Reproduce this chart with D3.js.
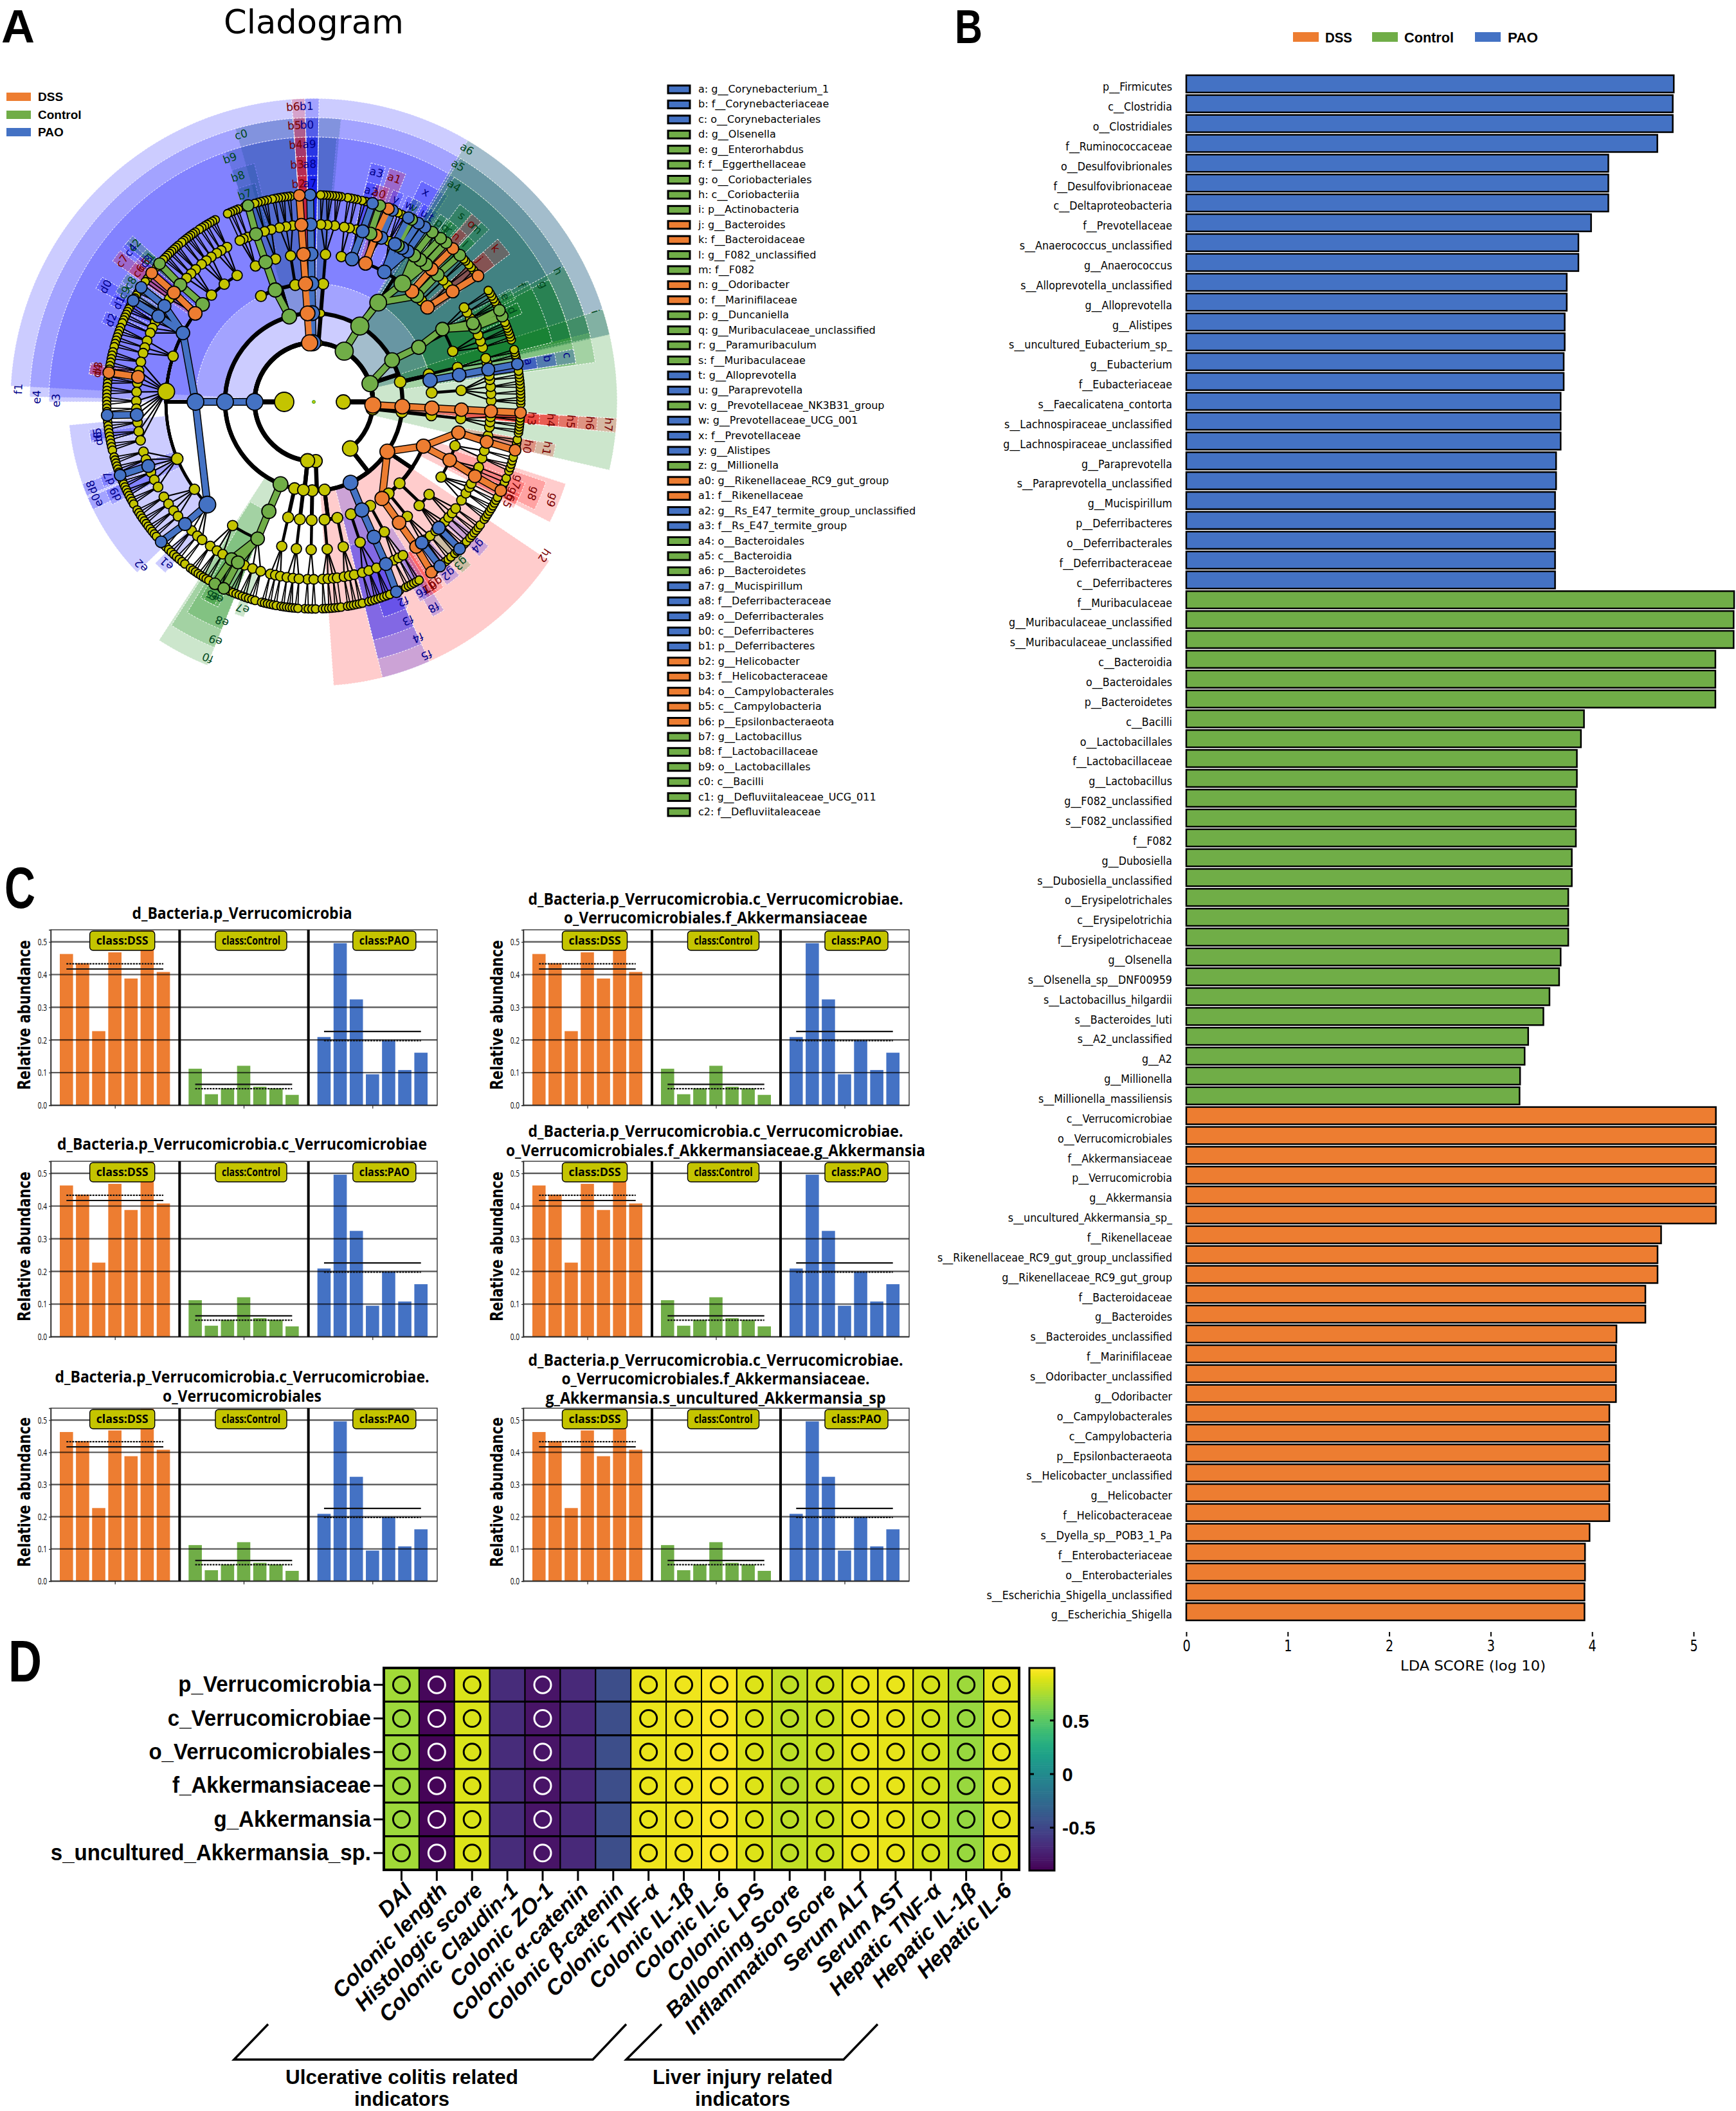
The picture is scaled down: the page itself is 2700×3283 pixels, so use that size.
<!DOCTYPE html>
<html><head><meta charset="utf-8">
<script src="https://cdn.jsdelivr.net/npm/d3@7/dist/d3.min.js"></script>
<style>html,body{margin:0;background:#fff}svg{display:block}</style></head>
<body><svg id="fig" width="2700" height="3283"></svg>
<script>
// ---------- shared colours ----------
const groupNames = ["DSS", "Control", "PAO"];
const groupColors = ["#ed7d31", "#70ad47", "#4472c4"];

// ---------- Panel A: legend ----------
const cladeLegendLabels = ["a: g__Corynebacterium_1","b: f__Corynebacteriaceae","c: o__Corynebacteriales","d: g__Olsenella","e: g__Enterorhabdus","f: f__Eggerthellaceae","g: o__Coriobacteriales","h: c__Coriobacteriia","i: p__Actinobacteria","j: g__Bacteroides","k: f__Bacteroidaceae","l: g__F082_unclassified","m: f__F082","n: g__Odoribacter","o: f__Marinifilaceae","p: g__Duncaniella","q: g__Muribaculaceae_unclassified","r: g__Paramuribaculum","s: f__Muribaculaceae","t: g__Alloprevotella","u: g__Paraprevotella","v: g__Prevotellaceae_NK3B31_group","w: g__Prevotellaceae_UCG_001","x: f__Prevotellaceae","y: g__Alistipes","z: g__Millionella","a0: g__Rikenellaceae_RC9_gut_group","a1: f__Rikenellaceae","a2: g__Rs_E47_termite_group_unclassified","a3: f__Rs_E47_termite_group","a4: o__Bacteroidales","a5: c__Bacteroidia","a6: p__Bacteroidetes","a7: g__Mucispirillum","a8: f__Deferribacteraceae","a9: o__Deferribacterales","b0: c__Deferribacteres","b1: p__Deferribacteres","b2: g__Helicobacter","b3: f__Helicobacteraceae","b4: o__Campylobacterales","b5: c__Campylobacteria","b6: p__Epsilonbacteraeota","b7: g__Lactobacillus","b8: f__Lactobacillaceae","b9: o__Lactobacillales","c0: c__Bacilli","c1: g__Defluviitaleaceae_UCG_011","c2: f__Defluviitaleaceae"];
const cladeLegendGroups = "PPPCCCCCCDDCCDDCCCCPPCPPPCDDPPCCCPPPPPDDDDDCCCCCC".split("");

// ---------- Panel A: taxonomy rows: phylum, class, order, family, from°, to°, genera ----------
// A genus is its species count, or [name, species count]. Degrees run counter-clockwise from east.
const taxonRows = [
["px2","cx2","ox2","fx2",-93,-89,[2,2]],
["p__Proteobacteria","c_a","o_a1","f_a1",-88,-82,[2,2,2,1]],
["p__Proteobacteria","c_a","o_a2","f_a2",-81,-76,[2,2,2]],
["p__Proteobacteria","c__Deltaproteobacteria","o_d2","f_d2",-75,-68,[2,3,3]],
["p__Proteobacteria","c__Deltaproteobacteria","o__Desulfovibrionales","f__Desulfovibrionaceae",-67,-65,[["g_f2",2]]],
["p__Proteobacteria","c__Deltaproteobacteria","o_d3","f_d3",-64,-59,[2,2,2]],
["p__Proteobacteria","c_Gamma","o__Enterobacteriales","f__Enterobacteriaceae",-56,-53.5,[["g__Escherichia",2]]],
["p__Proteobacteria","c_Gamma","o_g1","f_g1",-53,-48,[["g_g2",1],2,2]],
["p__Proteobacteria","c_Gamma","o_g2","f_g2",-47.5,-42,[2,["g_g4",1],2,1]],
["p__Proteobacteria","c_Gamma","o_g2","f_g5",-41.5,-36,[2,2,2]],
["p__Proteobacteria","c_Gamma","o_g9","f_g3",-35,-27,[3,3,2,1]],
["p__Proteobacteria","c_Gamma","o_g9","f_g8",-26,-21,[["g_g7",2],1,1]],
["p__Proteobacteria","c_Gamma","o_g9","f_g4",-20,-15,[3,2]],
["p__Proteobacteria","c_Gamma","o_g9","f_h1",-14,-10,[["g_h0",2],2]],
["p_y","c_y","o_y","f_y",-9,-4,[2,2,2]],
["p__Verrucomicrobia","c__Verrucomicrobiae","o__Verrucomicrobiales","f__Akkermansiaceae",-3.5,-2.5,[["g__Akkermansia",1]]],
["p__Actinobacteria","c_Actino","o_b1","f_b1",-1,9,[3,2,3,2,1]],
["p__Actinobacteria","c_Actino","o__Corynebacteriales","f__Corynebacteriaceae",10,11,[["g__Corynebacterium_1",1]]],
["p__Actinobacteria","c_Actino","o_b2","f_b2",12,15,[2,2]],
["p__Actinobacteria","c__Coriobacteriia","o__Coriobacteriales","f_c2",17,23,[2,3,2]],
["p__Actinobacteria","c__Coriobacteriia","o__Coriobacteriales","f__Eggerthellaceae",24,33,[["g__Olsenella",2],["g__Enterorhabdus",1],3,2,2]],
["p__Bacteroidetes","c__Bacteroidia","o__Bacteroidales","f__Bacteroidaceae",37,42,[["g__Bacteroides",3],2]],
["p__Bacteroidetes","c__Bacteroidia","o__Bacteroidales","f_t",42.5,44,[2]],
["p__Bacteroidetes","c__Bacteroidia","o__Bacteroidales","f__F082",44.5,47,[["g__F082_unclassified",2]]],
["p__Bacteroidetes","c__Bacteroidia","o__Bacteroidales","f__Marinifilaceae",47.2,49.5,[["g__Odoribacter",2]]],
["p__Bacteroidetes","c__Bacteroidia","o__Bacteroidales","f__Muribaculaceae",49.8,56.5,[["g__Duncaniella",2],["g__Muribaculaceae_unclassified",3],["g__Paramuribaculum",2]]],
["p__Bacteroidetes","c__Bacteroidia","o__Bacteroidales","f__Prevotellaceae",57,66.5,[["g__Alloprevotella",2],["g__Paraprevotella",2],["g__Prevotellaceae_NK3B31_group",1],["g__Prevotellaceae_UCG_001",1],3]],
["p__Bacteroidetes","c__Bacteroidia","o__Bacteroidales","f__Rikenellaceae",67,72,[["g__Alistipes",1],["g__Rikenellaceae_RC9_gut_group",2],["g__Millionella",1]]],
["p__Bacteroidetes","c__Bacteroidia","o__Bacteroidales","f__Rs_E47_termite_group",73,77,[["g__Rs_E47_termite_group_unclassified",2],2]],
["p__Bacteroidetes","c__Bacteroidia","o__Bacteroidales","f_r",77.5,81,[2,2]],
["p_s","c_s","o_s","f_s",82,88.5,[3,3,2]],
["p__Deferribacteres","c__Deferribacteres","o__Deferribacterales","f__Deferribacteraceae",90.5,91.5,[["g__Mucispirillum",1]]],
["p__Epsilonbacteraeota","c__Campylobacteria","o__Campylobacterales","f__Helicobacteraceae",93.5,94.5,[["g__Helicobacter",1]]],
["p__Firmicutes","c__Bacilli","o_b0","f_b0",96,102,[2,3,2]],
["p__Firmicutes","c__Bacilli","o__Lactobacillales","f_l2",102.5,107,[3,2]],
["p__Firmicutes","c__Bacilli","o__Lactobacillales","f__Lactobacillaceae",108,110,[["g__Lactobacillus",2]]],
["p__Firmicutes","c__Bacilli","o__Lactobacillales","f_l3",111,115,[2,2,1]],
["p__Firmicutes","c__Bacilli","o_b3",null,116,117,[]],
["p__Firmicutes","c__Clostridia","o__Clostridiales","f_c1a",118,124,[3,2,2]],
["p__Firmicutes","c__Clostridia","o__Clostridiales","f_c1b",124.5,130,[2,3,2]],
["p__Firmicutes","c__Clostridia","o__Clostridiales","f_c2b",130.5,137,[3,2,3]],
["p__Firmicutes","c__Clostridia","o__Clostridiales","f__Defluviitaleaceae",137.5,140,[["g__Defluviitaleaceae_UCG_011",2]]],
["p__Firmicutes","c__Clostridia","o__Clostridiales","f_c3",141,145,[["g_c6",2],1,1]],
["p__Firmicutes","c__Clostridia","o__Clostridiales","f__Lachnospiraceae",146,158,[["g_d1",3],2,["g_d2",2],3,2,2]],
["p__Firmicutes","c__Clostridia","o__Clostridiales","f_c5",158.5,165,[3,2,2]],
["p__Firmicutes","c__Clostridia","o__Clostridiales","f_big",165.5,194,[3,3,["g_d3",1],3,3,3,2,["g_d5",2],3,3,3]],
["p__Firmicutes","c__Clostridia","o__Clostridiales","f_c6",195,210,[3,3,["g_d7",2],3,3,3]],
["p__Firmicutes","c__Clostridia","o__Clostridiales","f_c7",211,221,[3,3,3,2]],
["p__Firmicutes","c__Clostridia","o__Clostridiales","f__Ruminococcaceae",222,232,[["g_e1",3],3,2,2]],
["p__Firmicutes","c__Erysipelotrichia","o__Erysipelotrichales","f_e2",233,240,[3,3,2]],
["p__Firmicutes","c__Erysipelotrichia","o__Erysipelotrichales","f__Erysipelotrichaceae",241,254,[["g__Dubosiella",3],["g_e7",2],3,3,3]],
["p_t","c_t1","o_t1","f_t1",255,260,[2,2,2]],
["p_t","c_t2","o_t2","f_t2",260.5,266,[2,3,2]],
];
const kingdomOf = {p__Firmicutes:"k_left",p_t:"k_left",p__Deferribacteres:"k_left",p__Epsilonbacteraeota:"k_left"};
const pinnedAngles = {k_left:180,k_right:0,p__Firmicutes:180,c__Clostridia:180,o__Clostridiales:180,f_big:176,f_c6:202.6,f__Ruminococcaceae:224,c__Bacilli:106,o__Lactobacillales:109,c__Erysipelotrichia:248,o__Erysipelotrichales:247.7,f__Erysipelotrichaceae:247.7,p_t:264,px2:272,p__Proteobacteria:-52,c_a:-83,c__Deltaproteobacteria:-65.5,c_Gamma:-34,o_g9:-22,o_g2:-43.5,p__Actinobacteria:18,c_Actino:13,c__Coriobacteriia:28,o__Coriobacteriales:27.5,f__Eggerthellaceae:29.5,p__Bacteroidetes:59,c__Bacteroidia:58.7,o__Bacteroidales:57};
const cladeDSS = ["p__Verrucomicrobia","c__Verrucomicrobiae","o__Verrucomicrobiales","f__Akkermansiaceae","g__Akkermansia","f__Bacteroidaceae","g__Bacteroides","f__Marinifilaceae","g__Odoribacter","f__Rikenellaceae","g__Rikenellaceae_RC9_gut_group","p__Epsilonbacteraeota","c__Campylobacteria","o__Campylobacterales","f__Helicobacteraceae","g__Helicobacter","c_Gamma","o_g9","f_g8","g_g7","f_h1","g_h0","o__Enterobacteriales","f__Enterobacteriaceae","g__Escherichia","f_c3","g_c6","g_d3"];
const cladeControl = ["p__Actinobacteria","c__Coriobacteriia","o__Coriobacteriales","f__Eggerthellaceae","g__Olsenella","g__Enterorhabdus","f__F082","g__F082_unclassified","f__Muribaculaceae","g__Duncaniella","g__Muribaculaceae_unclassified","g__Paramuribaculum","g__Prevotellaceae_NK3B31_group","g__Millionella","p__Bacteroidetes","c__Bacteroidia","o__Bacteroidales","c__Bacilli","o__Lactobacillales","f__Lactobacillaceae","g__Lactobacillus","f__Defluviitaleaceae","g__Defluviitaleaceae_UCG_011","c__Erysipelotrichia","o__Erysipelotrichales","f__Erysipelotrichaceae","g__Dubosiella","g_e7"];
const cladePAO = ["p__Firmicutes","c__Clostridia","o__Clostridiales","f__Ruminococcaceae","g_e1","f__Lachnospiraceae","g_d1","g_d2","g_d5","g_d7","p__Deferribacteres","c__Deferribacteres","o__Deferribacterales","f__Deferribacteraceae","g__Mucispirillum","o__Corynebacteriales","f__Corynebacteriaceae","g__Corynebacterium_1","f__Prevotellaceae","g__Alloprevotella","g__Paraprevotella","g__Prevotellaceae_UCG_001","g__Alistipes","f__Rs_E47_termite_group","g__Rs_E47_termite_group_unclassified","c__Deltaproteobacteria","o__Desulfovibrionales","f__Desulfovibrionaceae","g_f2","g_g2","g_g4"];
const bigNodes = {k_left:15,k_right:11,p__Firmicutes:13,c__Clostridia:13,o__Clostridiales:13,f_big:13,f__Ruminococcaceae:13,p__Bacteroidetes:14,c__Bacteroidia:14,o__Bacteroidales:13,f__Muribaculaceae:13,p__Proteobacteria:12,c_a:9,p_t:11,p_s:6,c_s:6,f_c6:9};

// ---------- Panel A: highlighted sectors: label, group, level, from°, to°, label angle ----------
const cladeWedges = [
["c0","C","c",84.5,106,105.2],["b9","C","o",85,109.5,109],["b8","C","f",104,109.5,108.6],["b7","C","g",105,110,108.4],
["f1","P","p",12.8,177,177.5],["e4","P","c",14,179,179],["e3","P","o",14,180,179.7],
["e2","P","f",185.4,224,223.5],["e1","P","g",225.5,229,227.7],["e0","P","f",203,206,204.4],["d9","P","g",203,207,205],["d8","P","f",199.5,202.5,201],["d7","P","g",199,202,200.5],["d6","P","g",188,190.5,189.7],["d5","P","g",187,190,188.6],
["d4","D","g",170,173,171.8],["d3","D","g",170.5,173,171.2],["d2","P","g",156.5,159.5,158],["d1","P","g",151.5,154.5,153],["d0","P","f",149.5,152.5,151],["c9","C","g",148.5,151,150],["c8","C","g",145.5,148,147],["c7","D","f",142,145,143.7],["c6","D","g",142,145,143.2],["c5","D","g",139.5,142,141],["c4","P","f",139,141,140.3],["c3","P","g",139,141,140],["c2","C","f",137.5,140,138.8],["c1","C","g",137.5,140,139],
["b6","D","p",91.7,94.2,94],["b5","D","c",91.7,94.2,94],["b4","D","o",91.7,94.2,94],["b3","D","f",91.7,94.2,94],["b2","D","g",91.7,94.2,94],
["b1","P","p",89,91.7,91.4],["b0","P","c",89,91.7,91.4],["a9","P","o",89,91.7,91],["a8","P","f",89,91.7,91],["a7","P","g",89,91.7,91],
["a3","P","f",73,76.5,74.7],["a2","P","g",73,76.5,74.8],["a1","D","f",68,72,70.2],["a0","D","g",70.5,74,72.6],["y","P","g",66.5,69.5,67.9],["x","P","f",57,64,61.9],["w","P","g",62.5,65.5,64],["v","C","g",61.5,64,62.7],["u","P","g",58,61,59.6],["t","P","g",56.5,59,57.5],
["a6","C","p",12.8,59.5,58.8],["a5","C","c",13,59,58.6],["a4","C","o",13.5,58,57],
["s","C","f",49.8,53.5,51.5],["r","C","g",50.5,53,51.8],["q","C","g",52,54,53],["p","C","g",54,56,55],["o","D","f",47,50,48.4],["n","D","g",47.5,50,49.3],["m","C","f",44.5,47,46.8],["l","C","g",44.5,47,46.2],["k","D","f",37,41.5,40.2],["j","D","g",37,41.5,40.6],
["i","C","p",-13,17.8,17.8],["h","C","c",8,28.5,28.2],["g","C","o",8,27.5,27.1],["f","C","f",14,29.5,29.3],["e","C","g",27,30,28.8],["d","C","g",23,26,24.8],["c","P","o",8.5,11.5,10.4],["b","P","f",8.5,11.5,10.5],["a","P","g",8.5,11.5,10.6],
["h7","D","p",-5.8,-3.1,-4.4],["h6","D","c",-5.8,-3.1,-4.4],["h5","D","o",-5.8,-3.1,-4.4],["h4","D","f",-5.8,-3.1,-4.4],["h3","D","g",-5.8,-3.1,-4.4],
["h1","D","f",-13,-10,-11.2],["h0","D","g",-13,-10,-11.8],
["g9","D","o",-27,-18,-22.4],["g8","D","f",-26,-19,-22.7],["g7","D","g",-25,-21,-21.5],["g6","D","g",-27,-24,-25],["g5","D","g",-28,-25,-27],
["h2","D","c",-86,-34,-33.7],
["g4","P","g",-43,-39.5,-41.3],["g3","C","g",-49,-46,-47.7],["g2","P","g",-54,-50,-52],
["g1","D","g",-59.5,-56.5,-58],["g0","D","g",-58,-55,-56],["f8","P","f",-61,-58,-59.8],["f7","D","g",-60,-57,-58.4],["f6","P","g",-62,-59,-60.5],
["f5","P","c",-76,-66,-66],["f4","P","o",-76,-66,-66.2],["f3","P","f",-76,-66,-66.7],["f2","P","g",-72,-65.5,-65.9],
["f0","C","c",237,248,247.5],["e9","C","o",237.5,248,247.6],["e8","C","f",239,248,247.3],["e7","C","g",249.5,252,251],["e6","C","g",241,245,243.6],["e5","C","g",240,244,242.4]
];
const wedgeColors = {D:"#ff0000",C:"#008000",P:"#0000ff"};
const wedgeTextColors = {D:"#7a0000",C:"#00481c",P:"#00008a"};
const levelOuter = {p:472,c:442,o:412,f:382,g:352};
const levelInner = {p:92,c:138,o:184,f:230,g:276};
const levelLabelR = {p:460,c:431,o:401,f:370,g:340};

// ---------- Panel B ----------
const ldaPAONames = ["p__Firmicutes","c__Clostridia","o__Clostridiales","f__Ruminococcaceae","o__Desulfovibrionales","f__Desulfovibrionaceae","c__Deltaproteobacteria","f__Prevotellaceae","s__Anaerococcus_unclassified","g__Anaerococcus","s__Alloprevotella_unclassified","g__Alloprevotella","g__Alistipes","s__uncultured_Eubacterium_sp_","g__Eubacterium","f__Eubacteriaceae","s__Faecalicatena_contorta","s__Lachnospiraceae_unclassified","g__Lachnospiraceae_unclassified","g__Paraprevotella","s__Paraprevotella_unclassified","g__Mucispirillum","p__Deferribacteres","o__Deferribacterales","f__Deferribacteraceae","c__Deferribacteres"];
const ldaPAOValues = [4.805,4.795,4.795,4.643,4.16,4.16,4.16,3.99,3.865,3.865,3.75,3.75,3.73,3.73,3.72,3.72,3.69,3.69,3.69,3.645,3.645,3.635,3.635,3.635,3.635,3.635];
const ldaControlNames = ["f__Muribaculaceae","g__Muribaculaceae_unclassified","s__Muribaculaceae_unclassified","c__Bacteroidia","o__Bacteroidales","p__Bacteroidetes","c__Bacilli","o__Lactobacillales","f__Lactobacillaceae","g__Lactobacillus","g__F082_unclassified","s__F082_unclassified","f__F082","g__Dubosiella","s__Dubosiella_unclassified","o__Erysipelotrichales","c__Erysipelotrichia","f__Erysipelotrichaceae","g__Olsenella","s__Olsenella_sp__DNF00959","s__Lactobacillus_hilgardii","s__Bacteroides_luti","s__A2_unclassified","g__A2","g__Millionella","s__Millionella_massiliensis"];
const ldaControlValues = [5.40,5.395,5.395,5.215,5.215,5.215,3.92,3.89,3.85,3.85,3.84,3.84,3.84,3.80,3.80,3.765,3.765,3.765,3.69,3.675,3.58,3.52,3.37,3.335,3.29,3.285];
const ldaDSSNames = ["c__Verrucomicrobiae","o__Verrucomicrobiales","f__Akkermansiaceae","p__Verrucomicrobia","g__Akkermansia","s__uncultured_Akkermansia_sp_","f__Rikenellaceae","s__Rikenellaceae_RC9_gut_group_unclassified","g__Rikenellaceae_RC9_gut_group","f__Bacteroidaceae","g__Bacteroides","s__Bacteroides_unclassified","f__Marinifilaceae","s__Odoribacter_unclassified","g__Odoribacter","o__Campylobacterales","c__Campylobacteria","p__Epsilonbacteraeota","s__Helicobacter_unclassified","g__Helicobacter","f__Helicobacteraceae","s__Dyella_sp__POB3_1_Pa","f__Enterobacteriaceae","o__Enterobacteriales","s__Escherichia_Shigella_unclassified","g__Escherichia_Shigella"];
const ldaDSSValues = [5.22,5.22,5.22,5.22,5.22,5.22,4.68,4.645,4.645,4.525,4.525,4.24,4.235,4.235,4.235,4.17,4.17,4.17,4.17,4.17,4.17,3.975,3.93,3.93,3.925,3.925];
const ldaTicks = [0,1,2,3,4,5];

// ---------- Panel C ----------
const abundanceDSS = [0.463,0.435,0.227,0.468,0.388,0.535,0.408];
const abundanceControl = [0.112,0.034,0.052,0.121,0.057,0.052,0.032];
const abundancePAO = [0.209,0.496,0.324,0.095,0.199,0.108,0.161];
const abundanceMean = [0.417,0.064,0.226];
const abundanceMedian = [0.433,0.051,0.198];
const abundanceTicks = [0,0.1,0.2,0.3,0.4,0.5];
const classLabels = ["class:DSS","class:Control","class:PAO"];
const smallTitles = [
 [["d_Bacteria.p_Verrucomicrobia"]],
 [["d_Bacteria.p_Verrucomicrobia.c_Verrucomicrobiae."],["o_Verrucomicrobiales.f_Akkermansiaceae"]],
 [["d_Bacteria.p_Verrucomicrobia.c_Verrucomicrobiae"]],
 [["d_Bacteria.p_Verrucomicrobia.c_Verrucomicrobiae."],["o_Verrucomicrobiales.f_Akkermansiaceae.g_Akkermansia"]],
 [["d_Bacteria.p_Verrucomicrobia.c_Verrucomicrobiae."],["o_Verrucomicrobiales"]],
 [["d_Bacteria.p_Verrucomicrobia.c_Verrucomicrobiae."],["o_Verrucomicrobiales.f_Akkermansiaceae."],["g_Akkermansia.s_uncultured_Akkermansia_sp"]]
];

// ---------- Panel D ----------
const heatRows = ["p_Verrucomicrobia","c_Verrucomicrobiae","o_Verrucomicrobiales","f_Akkermansiaceae","g_Akkermansia","s_uncultured_Akkermansia_sp."];
const heatCols = ["DAI","Colonic length","Histologic score","Colonic Claudin-1","Colonic ZO-1","Colonic α-catenin","Colonic β-catenin","Colonic TNF-α","Colonic IL-1β","Colonic IL-6","Colonic LPS","Ballooning Score","Inflammation Score","Serum ALT","Serum AST","Hepatic TNF-α","Hepatic IL-1β","Hepatic IL-6"];
const heatValues = [
[.73,-.87,.88,-.67,-.80,-.68,-.45,.93,.94,.98,.89,.81,.85,.93,.93,.87,.71,.92],
[.71,-.88,.88,-.67,-.80,-.68,-.45,.93,.94,.99,.88,.80,.84,.93,.92,.86,.70,.92],
[.71,-.88,.88,-.67,-.80,-.68,-.45,.93,.94,.99,.88,.80,.84,.93,.92,.86,.70,.92],
[.71,-.88,.89,-.67,-.80,-.68,-.45,.93,.94,.99,.89,.79,.84,.93,.92,.86,.70,.92],
[.71,-.88,.88,-.67,-.80,-.68,-.45,.93,.94,.99,.89,.80,.84,.93,.92,.86,.69,.92],
[.73,-.87,.89,-.67,-.80,-.68,-.45,.94,.95,.99,.89,.81,.84,.94,.93,.87,.70,.92]];
const heatSignificant = [1,1,1,0,1,0,0,1,1,1,1,1,1,1,1,1,1,1];
const heatDomain = [-0.9,0.99];
const colorbarTicks = [0.5,0,-0.5];
const colorbarLevels = d3.range(0,100);
const bracketLabels = [["Ulcerative colitis related","indicators"],["Liver injury related","indicators"]];

// ---------- helpers ----------
const svg = d3.select("#fig");
const SANS = "'DejaVu Sans'", ARIAL = "'Liberation Sans'", OPEN = "'Open Sans'";
const fit = (sel,w)=>sel.attr("textLength",w).attr("lengthAdjust","spacingAndGlyphs");
const squeeze = (sel,f)=>sel.each(function(){const n=this.getComputedTextLength();d3.select(this).attr("textLength",n*f).attr("lengthAdjust","spacingAndGlyphs");});
const text = (g,x,y,s,o={})=>g.append("text").attr("x",x).attr("y",y).text(s)
  .attr("font-family",o.family||SANS).attr("font-size",o.size||16).attr("font-weight",o.weight||400)
  .attr("text-anchor",o.anchor||"start").attr("fill",o.fill||"#000").attr("font-style",o.style||"normal");

// panel letters
[["A",2,66,52,72],["B",1485,67,43,74],["C",7,1412,48,90],["D",13,2615,52,90]].forEach(([s,x,y,w,z])=>{
  fit(text(svg,x,y,s,{family:ARIAL,size:z,weight:700}),w);
});

// ========== Panel A ==========
(function(){
  const A = svg.append("g");
  fit(text(A,348,52,"Cladogram",{size:52}),280);
  groupNames.forEach((n,i)=>{
    const y=[150,178,205][i];
    A.append("rect").attr("x",10).attr("y",y-6).attr("width",38).attr("height",13).attr("fill",groupColors[i]);
    text(A,59,y+7,n,{family:ARIAL,size:19,weight:700});
  });
  // legend
  const ly=d3.scalePoint().domain(d3.range(cladeLegendLabels.length)).range([139,1263]);
  const gIdx={D:0,C:1,P:2};
  cladeLegendLabels.forEach((t,i)=>{
    A.append("rect").attr("x",1039).attr("y",ly(i)-6).attr("width",34).attr("height",12).attr("fill",groupColors[gIdx[cladeLegendGroups[i]]]).attr("stroke","#000").attr("stroke-width",3);
    text(A,1086,ly(i)+5,t,{size:16});
  });

  const cx=488, cy=625;
  const C=A.append("g").attr("transform",`translate(${cx},${cy})`);
  const rad=a=>(90-a)*Math.PI/180;
  const radius=d3.scaleLinear().domain([1,7]).range([46,322]);
  const arc=d3.arc();
  // sectors
  C.selectAll("path.w").data(cladeWedges).join("path").attr("class","w")
    .attr("d",d=>arc({innerRadius:levelInner[d[2]],outerRadius:levelOuter[d[2]],startAngle:rad(d[4]),endAngle:rad(d[3])}))
    .attr("fill",d=>wedgeColors[d[1]]).attr("fill-opacity",.2)
    .attr("stroke","#fff").attr("stroke-width",1).attr("stroke-dasharray","3 2");

  // tree
  const rootData={name:"root",children:[]};
  const child=(n,name)=>{n.children=n.children||[];let c=n.children.find(x=>x.name===name);if(!c){c={name};n.children.push(c);}return c;};
  taxonRows.forEach(r=>{
    const k=kingdomOf[r[0]]||"k_right";
    let n=child(rootData,k);
    r.slice(0,4).filter(Boolean).forEach(t=>{n=child(n,t);});
    const genera=r[6];
    const leaves=genera.length?d3.sum(genera,g=>Array.isArray(g)?g[1]:g):1;
    const step=(r[5]-r[4])/leaves; let i=0;
    if(!genera.length){n.angle=r[4]+step/2;return;}
    genera.forEach((g,gi)=>{
      const name=Array.isArray(g)?g[0]:`${n.name}_g${gi}`, cnt=Array.isArray(g)?g[1]:g;
      const gn=child(n,name);
      for(let s=0;s<cnt;s++){ const sp=child(gn,`${name}_s${s}`); sp.angle=r[4]+(i+.5)*step; sp.firstOf=s===0?name:null; i++; }
    });
  });
  const root=d3.hierarchy(rootData);
  root.eachAfter(n=>{
    if(n.children){const e=d3.extent(n.children,c=>c.data.angle);
      n.data.angle=(n.data.name in pinnedAngles)?pinnedAngles[n.data.name]:(e[0]+e[1])/2;}
  });
  const groupOf=new Map();
  cladeDSS.forEach(t=>groupOf.set(t,0));cladeControl.forEach(t=>groupOf.set(t,1));cladePAO.forEach(t=>groupOf.set(t,2));
  const grp=n=>{
    if(groupOf.has(n.data.name))return groupOf.get(n.data.name);
    if(n.data.firstOf&&groupOf.has(n.data.firstOf))return groupOf.get(n.data.firstOf);
    return null;
  };
  const pt=(a,r)=>d3.pointRadial(rad(a),r);
  const linkPath=l=>{
    const p=d3.path(),ap=l.source.data.angle,ac=l.target.data.angle;
    const rp=radius(l.source.depth),rc=radius(l.target.depth);
    const P=pt(ap,rp);p.moveTo(P[0],P[1]);
    if(l.target.depth>=6){const T=pt(ac,rc);p.lineTo(T[0],T[1]);return p.toString();}
    const Q=pt(ap,rc);p.lineTo(Q[0],Q[1]);
    const t0=-ap*Math.PI/180,t1=-ac*Math.PI/180;
    p.arc(0,0,rc,t0,t1,ac>ap);
    return p.toString();
  };
  const linkW={2:7,3:6.5,4:6,5:4.5,6:2.2,7:1.8};
  const links=root.links().filter(l=>l.source.depth>=1);
  C.selectAll("path.l").data(links).join("path").attr("class","l").attr("d",linkPath)
    .attr("fill","none").attr("stroke","#000").attr("stroke-width",d=>linkW[d.target.depth]);
  // highlighted bars
  const hl=links.filter(l=>grp(l.target)!==null&&grp(l.source)===grp(l.target));
  const straight=l=>{const a=pt(l.source.data.angle,radius(l.source.depth)),b=pt(l.target.data.angle,radius(l.target.depth));return `M${a[0]},${a[1]}L${b[0]},${b[1]}`;};
  C.selectAll("path.h0").data(hl).join("path").attr("class","h0").attr("d",straight).attr("stroke","#000").attr("stroke-width",12).attr("fill","none");
  C.selectAll("path.h1").data(hl).join("path").attr("class","h1").attr("d",straight).attr("stroke",d=>groupColors[grp(d.target)]).attr("stroke-width",9).attr("fill","none");
  // nodes
  const baseR={1:10,2:10,3:9,4:8.5,5:8,6:7.5,7:6.5};
  const nodes=root.descendants().filter(n=>n.depth>0);
  nodes.sort((a,b)=>(grp(a)===null?0:1)-(grp(b)===null?0:1)||b.depth-a.depth);
  C.selectAll("circle.n").data(nodes).join("circle").attr("class","n")
    .attr("cx",d=>pt(d.data.angle,radius(d.depth))[0]).attr("cy",d=>pt(d.data.angle,radius(d.depth))[1])
    .attr("r",d=>bigNodes[d.data.name]||(baseR[d.depth]+(grp(d)!==null?2.5:0)))
    .attr("fill",d=>grp(d)===null?"#c4c400":groupColors[grp(d)]).attr("stroke","#000").attr("stroke-width",1.8);
  C.append("circle").attr("r",2.5).attr("fill","#c4c400").attr("stroke","#3a3").attr("stroke-width",1);
  // labels
  cladeWedges.forEach(d=>{
    const p=pt(d[5],levelLabelR[d[2]]);
    C.append("text").text(d[0]).attr("transform",`translate(${p[0]},${p[1]}) rotate(${90-d[5]})`)
      .attr("text-anchor","middle").attr("dy","0.35em").attr("font-family",SANS).attr("font-size",17).attr("fill",wedgeTextColors[d[1]]);
  });
})();

// ========== Panel B ==========
(function(){
  const B=svg.append("g");
  [[2011,2061,42],[2134,2184,77],[2294,2345,47]].forEach(([sx,tx,w],i)=>{
    B.append("rect").attr("x",sx).attr("y",50).attr("width",40).attr("height",15).attr("fill",groupColors[i]);
    fit(text(B,tx,66,groupNames[i],{family:ARIAL,size:22,weight:700}),w);
  });
  const rows=[];
  ldaPAONames.forEach((n,i)=>rows.push({n,v:ldaPAOValues[i],g:2}));
  ldaControlNames.forEach((n,i)=>rows.push({n,v:ldaControlValues[i],g:1}));
  ldaDSSNames.forEach((n,i)=>rows.push({n,v:ldaDSSValues[i],g:0}));
  const x=d3.scaleLinear().domain([0,5]).range([1845,2634]);
  const y=d3.scaleBand().domain(rows.map(d=>d.n+d.g)).range([115,2522]).paddingInner(.13).paddingOuter(.065);
  B.selectAll("rect.b").data(rows).join("rect").attr("class","b")
    .attr("x",x(0)).attr("y",d=>y(d.n+d.g)).attr("width",d=>x(d.v)-x(0)).attr("height",y.bandwidth())
    .attr("fill",d=>groupColors[d.g]).attr("stroke","#000").attr("stroke-width",2.5);
  const ay=B.append("g").attr("transform",`translate(${x(0)},0)`).call(d3.axisLeft(y).tickSize(0).tickPadding(22).tickFormat(d=>d.slice(0,-1)));
  ay.select(".domain").remove();
  ay.selectAll("text").attr("font-family",SANS).attr("font-size",18).attr("dy","0.6em").call(squeeze,.885);
  const ax=B.append("g").attr("transform","translate(0,2538)").call(d3.axisBottom(x).tickValues(ldaTicks).tickSize(7).tickPadding(6).tickFormat(d3.format("d")));
  ax.select(".domain").remove();
  ax.selectAll("line").attr("stroke-width",2);
  ax.selectAll("text").attr("font-family",SANS).attr("font-size",24).call(squeeze,.8);
  fit(text(B,2291,2598,"LDA SCORE (log 10)",{size:21,anchor:"middle"}),226);
})();

// ========== Panel C ==========
(function(){
  const C=svg.append("g");
  const rowsY=[[1446,1719],[1806,2079],[2190,2459]];
  const colsX=[[79,680],[814,1414]];
  const titleWidths=[[342],[583,472],[575],[583,652],[582,247],[583,479,529]];
  const titleYs=[[1429],[1407,1436],[1788],[1768,1798],[2150,2180],[2124,2153,2183]];
  const series=[abundanceDSS,abundanceControl,abundancePAO];
  let id=0;
  rowsY.forEach(([top,base],ri)=>colsX.forEach(([x0,x1],ci)=>{
    const pi=ri*2+ci, g=C.append("g");
    const y=d3.scaleLinear().domain([0,0.537]).range([base,top]);
    const xg=d3.scaleBand().domain(groupNames).range([x0,x1]);
    const xi=d3.scaleBand().domain(d3.range(7)).range([14,xg.bandwidth()-15]).paddingInner(.18).paddingOuter(0);
    const clip="c"+(id++);
    g.append("clipPath").attr("id",clip).append("rect").attr("x",x0).attr("y",top).attr("width",x1-x0).attr("height",base-top);
    const pg=g.append("g").attr("clip-path",`url(#${clip})`);
    series.forEach((vals,s)=>{
      pg.selectAll(null).data(vals).join("rect")
        .attr("x",(d,i)=>xg(groupNames[s])+xi(i)).attr("width",xi.bandwidth())
        .attr("y",d=>y(d)).attr("height",d=>base-y(d)).attr("fill",groupColors[s]);
    });
    // grid
    const ga=g.append("g").attr("transform",`translate(${x0},0)`).call(d3.axisLeft(y).tickValues(abundanceTicks).tickSize(3).tickPadding(3).tickFormat(d3.format(".1f")));
    ga.select(".domain").attr("stroke","#333").attr("stroke-width",1.5);
    ga.selectAll("text").attr("font-family",OPEN).attr("font-size",15).call(squeeze,.68);
    g.selectAll("line.grid").data(abundanceTicks).join("line").attr("class","grid")
      .attr("x1",x0).attr("x2",x1).attr("y1",d=>y(d)).attr("y2",d=>y(d))
      .attr("stroke","#000").attr("stroke-opacity",.62).attr("stroke-width",2.4);
    groupNames.forEach((n,s)=>{
      const a=xg(n)+xi(0)+xi.bandwidth()/2, b=xg(n)+xi(6)+xi.bandwidth()/2;
      g.append("line").attr("x1",a).attr("x2",b).attr("y1",y(abundanceMean[s])).attr("y2",y(abundanceMean[s])).attr("stroke","#111").attr("stroke-width",2.2);
      g.append("line").attr("x1",a).attr("x2",b).attr("y1",y(abundanceMedian[s])).attr("y2",y(abundanceMedian[s])).attr("stroke","#111").attr("stroke-width",2.2).attr("stroke-dasharray","3 1.5");
    });
    const ticksX=g.append("g").attr("transform",`translate(0,${base})`).call(d3.axisBottom(xg).tickSize(5).tickFormat(""));
    ticksX.select(".domain").remove();
    g.append("rect").attr("x",x0).attr("y",top).attr("width",x1-x0).attr("height",base-top).attr("fill","none").attr("stroke","#333").attr("stroke-width",1.4);
    groupNames.slice(1).forEach(n=>g.append("line").attr("x1",xg(n)).attr("x2",xg(n)).attr("y1",top).attr("y2",base).attr("stroke","#000").attr("stroke-width",4));
    const boxW=[101,111,98], boxOff=[11,11,18];
    classLabels.forEach((t,s)=>{
      const c=xg(groupNames[s])+xg.bandwidth()/2+boxOff[s];
      g.append("rect").attr("x",c-boxW[s]/2).attr("y",top+2).attr("width",boxW[s]).attr("height",30).attr("rx",5)
        .attr("fill","#c4c400").attr("stroke","#000").attr("stroke-width",1.4);
      fit(text(g,c,top+23,t,{family:OPEN,size:18,weight:700,anchor:"middle"}),boxW[s]-20);
    });
    fit(text(g,0,0,"Relative abundance",{size:27,weight:700,anchor:"middle"}).attr("x",null).attr("y",null)
      .attr("transform",`translate(${x0-32},${(top+base)/2-4}) rotate(-90)`),233);
    smallTitles[pi].forEach((l,li)=>{
      fit(text(g,(x0+x1)/2+(ci?-1:-3),titleYs[pi][li],l[0],{family:OPEN,size:25,weight:700,anchor:"middle"}),titleWidths[pi][li]);
    });
  }));
})();

// ========== Panel D ==========
(function(){
  const D=svg.append("g");
  const x=d3.scaleBand().domain(heatCols).range([597,1585]);
  const y=d3.scaleBand().domain(heatRows).range([2594,2908]);
  const color=d3.scaleSequential(d3.interpolateViridis).domain(heatDomain);
  const cells=[];
  heatRows.forEach((r,ri)=>heatCols.forEach((c,ci)=>cells.push({r,c,ci,v:heatValues[ri][ci]})));
  D.selectAll("rect.c").data(cells).join("rect").attr("class","c")
    .attr("x",d=>x(d.c)).attr("y",d=>y(d.r)).attr("width",x.bandwidth()).attr("height",y.bandwidth())
    .attr("fill",d=>color(d.v)).attr("stroke","#000").attr("stroke-width",2);
  heatRows.forEach(r=>D.append("line").attr("x1",597).attr("x2",1585).attr("y1",y(r)).attr("y2",y(r)).attr("stroke","#000").attr("stroke-width",3));
  D.selectAll("circle.s").data(cells.filter(d=>heatSignificant[d.ci])).join("circle").attr("class","s")
    .attr("cx",d=>x(d.c)+x.bandwidth()/2).attr("cy",d=>y(d.r)+y.bandwidth()/2).attr("r",13)
    .attr("fill","none").attr("stroke",d=>d.v<-.7?"#fff":"#000").attr("stroke-width",3);
  D.append("rect").attr("x",597).attr("y",2594).attr("width",988).attr("height",314).attr("fill","none").attr("stroke","#000").attr("stroke-width",4);
  const ax=D.append("g").attr("transform","translate(0,2908)").call(d3.axisBottom(x).tickSize(17));
  ax.select(".domain").remove(); ax.selectAll("line").attr("stroke-width",3);
  ax.selectAll("text").attr("font-family",ARIAL).attr("font-size",34).attr("font-weight",700).attr("font-style","italic")
    .attr("text-anchor","end").attr("x",0).attr("y",0).attr("dy","0.35em")
    .attr("transform","translate(10,26) rotate(-45)").text(d=>d);
  const ay=D.append("g").attr("transform","translate(597,0)").call(d3.axisLeft(y).tickSize(16).tickPadding(4));
  ay.select(".domain").remove(); ay.selectAll("line").attr("stroke-width",3);
  ay.selectAll("text").attr("font-family",ARIAL).attr("font-size",35).attr("font-weight",700).call(squeeze,.945);
  // colourbar
  const cb=d3.scaleLinear().domain(heatDomain).range([2909,2594]);
  const lev=d3.scaleLinear().domain([0,100]).range(heatDomain);
  D.selectAll("rect.cb").data(colorbarLevels).join("rect").attr("class","cb")
    .attr("x",1601).attr("width",39).attr("y",d=>cb(lev(d+1))).attr("height",d=>cb(lev(d))-cb(lev(d+1))+.6).attr("fill",d=>color(lev(d+.5)));
  D.append("rect").attr("x",1601).attr("y",2594).attr("width",39).attr("height",315).attr("fill","none").attr("stroke","#000").attr("stroke-width",3);
  colorbarTicks.forEach(t=>{
    D.append("line").attr("x1",1601).attr("x2",1608).attr("y1",cb(t)).attr("y2",cb(t)).attr("stroke","#000").attr("stroke-width",3);
    D.append("line").attr("x1",1633).attr("x2",1640).attr("y1",cb(t)).attr("y2",cb(t)).attr("stroke","#000").attr("stroke-width",3);
    text(D,1652,cb(t)+11,t===0?"0":String(t),{family:ARIAL,size:30,weight:700});
  });
  // brackets
  const line=d3.line();
  [[[417,3148],[364,3203],[922,3203],[974,3148]],[[1029,3148],[974,3203],[1312,3203],[1365,3148]]].forEach(p=>{
    D.append("path").attr("d",line(p)).attr("fill","none").attr("stroke","#000").attr("stroke-width",3.5);
  });
  fit(text(D,625,3241,bracketLabels[0][0],{family:ARIAL,size:32,weight:700,anchor:"middle"}),362);
  fit(text(D,625,3275,bracketLabels[0][1],{family:ARIAL,size:32,weight:700,anchor:"middle"}),148);
  fit(text(D,1155,3241,bracketLabels[1][0],{family:ARIAL,size:32,weight:700,anchor:"middle"}),280);
  fit(text(D,1155,3275,bracketLabels[1][1],{family:ARIAL,size:32,weight:700,anchor:"middle"}),148);
})();
</script></body></html>
